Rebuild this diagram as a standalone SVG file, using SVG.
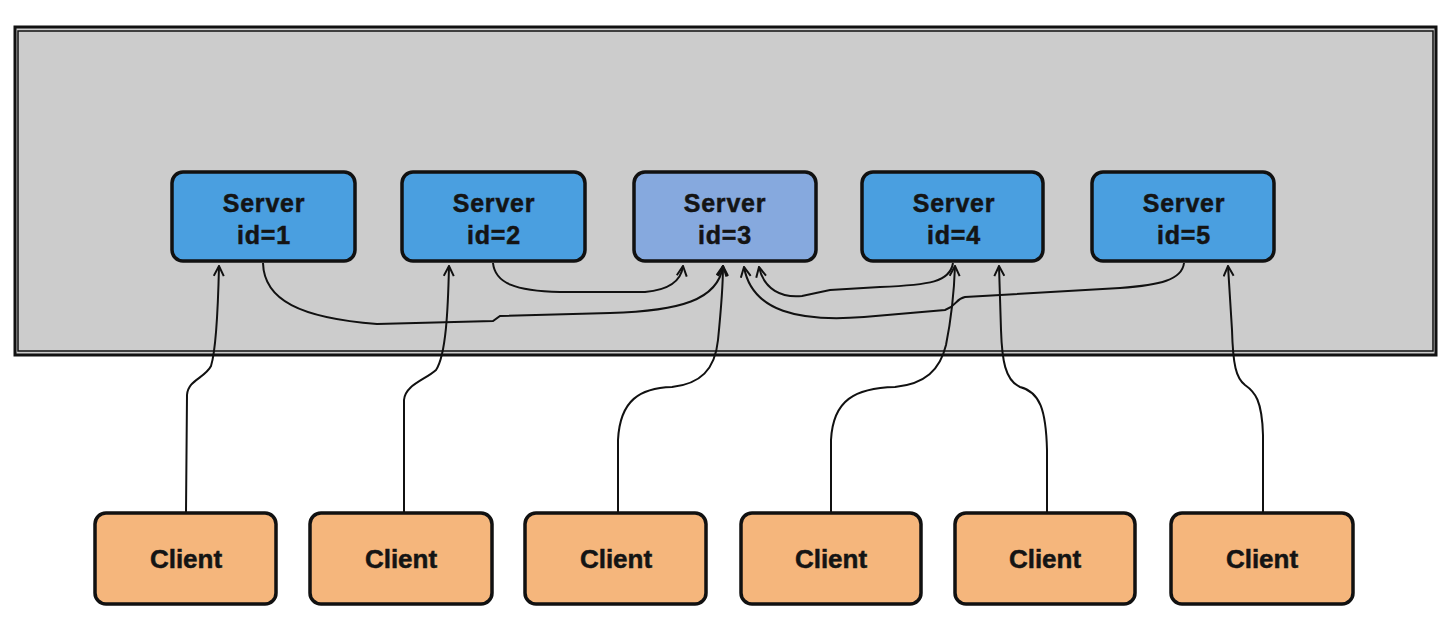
<svg xmlns="http://www.w3.org/2000/svg" width="1448" height="618" viewBox="0 0 1448 618">
<style>
.frame{fill:#cccccc;stroke:#111;stroke-width:3}
.frame2{fill:none;stroke:#111;stroke-width:1.5}
.srv{fill:#4a9fe0;stroke:#111;stroke-width:3.5}
.srv3{fill:#86a9de;stroke:#111;stroke-width:3.5}
.cli{fill:#f5b67c;stroke:#111;stroke-width:3.5}
.lbl{font-family:"Liberation Sans",Arial,sans-serif;font-weight:bold;fill:#141414;stroke:#141414;stroke-width:0.5;text-anchor:middle}
.s{font-size:25px;letter-spacing:0.8px}
.c{font-size:26px}
.edge{fill:none;stroke:#111;stroke-width:2;marker-end:url(#arr)}
</style>
<defs>
<marker id="arr" viewBox="0 0 12 12" refX="11" refY="6" markerWidth="12" markerHeight="12" markerUnits="userSpaceOnUse" orient="auto">
<path d="M1,1 L11,6 L1,11" fill="none" stroke="#111" stroke-width="2"/>
</marker>
</defs>
<rect width="1448" height="618" fill="#ffffff"/>
<g id="frame">
<rect class="frame" x="15" y="27" width="1421" height="328"/>
<rect class="frame2" x="18" y="31" width="1415" height="320"/>
</g>
<g id="connectors">
<path class="edge" d="M186,513 L187,395 C188,380 205,378 211,366 C216,350 218,310 219,266"/>
<path class="edge" d="M404,513 L404,400 C405,385 425,380 436,370 C446,355 448,310 449,266"/>
<path class="edge" d="M618,513 L618,440 C620,400 640,388 672,387 C700,384 715,370 718,340 C721,310 723,290 723,266"/>
<path class="edge" d="M831,513 L831,440 C833,400 855,388 895,387 C925,384 940,370 946,345 C951,320 954,295 955,266"/>
<path class="edge" d="M1047,513 L1047,450 C1046,410 1040,392 1020,387 C1005,380 1002,360 1001,330 L999,266"/>
<path class="edge" d="M1263,513 L1263,435 C1262,400 1255,392 1245,385 C1236,378 1233,365 1232,330 L1228,266"/>
<path class="edge" d="M263,263 C264,300 300,318 377,324 L493,321 L500,316 L610,313 C680,311 718,300 723,266"/>
<path class="edge" d="M493,263 C495,283 515,291 560,292 L645,292 C668,290 681,282 683,266"/>
<path class="edge" d="M953,263 C950,282 930,285 880,287 L830,290 L802,296 C782,298 764,290 759,267"/>
<path class="edge" d="M1184,263 C1182,280 1160,285 1120,288 L965,297 C955,299 958,305 945,310 L864,317 C800,322 752,312 744,267"/>
</g>
<g id="server1">
<rect class="srv" x="172" y="172" width="183" height="89" rx="11"/>
<text class="lbl s" x="264" y="212">Server</text>
<text class="lbl s" x="264" y="244">id=1</text>
</g>
<g id="server2">
<rect class="srv" x="402" y="172" width="183" height="89" rx="11"/>
<text class="lbl s" x="494" y="212">Server</text>
<text class="lbl s" x="494" y="244">id=2</text>
</g>
<g id="server3">
<rect class="srv3" x="634" y="172" width="182" height="89" rx="11"/>
<text class="lbl s" x="725" y="212">Server</text>
<text class="lbl s" x="725" y="244">id=3</text>
</g>
<g id="server4">
<rect class="srv" x="862" y="172" width="181" height="89" rx="11"/>
<text class="lbl s" x="954" y="212">Server</text>
<text class="lbl s" x="954" y="244">id=4</text>
</g>
<g id="server5">
<rect class="srv" x="1092" y="172" width="182" height="89" rx="11"/>
<text class="lbl s" x="1184" y="212">Server</text>
<text class="lbl s" x="1184" y="244">id=5</text>
</g>
<g id="client1">
<rect class="cli" x="95" y="513" width="181" height="91" rx="11"/>
<text class="lbl c" x="186" y="568">Client</text>
</g>
<g id="client2">
<rect class="cli" x="310" y="513" width="182" height="91" rx="11"/>
<text class="lbl c" x="401" y="568">Client</text>
</g>
<g id="client3">
<rect class="cli" x="525" y="513" width="181" height="91" rx="11"/>
<text class="lbl c" x="616" y="568">Client</text>
</g>
<g id="client4">
<rect class="cli" x="741" y="513" width="180" height="91" rx="11"/>
<text class="lbl c" x="831" y="568">Client</text>
</g>
<g id="client5">
<rect class="cli" x="955" y="513" width="180" height="91" rx="11"/>
<text class="lbl c" x="1045" y="568">Client</text>
</g>
<g id="client6">
<rect class="cli" x="1171" y="513" width="182" height="91" rx="11"/>
<text class="lbl c" x="1262" y="568">Client</text>
</g>
</svg>
